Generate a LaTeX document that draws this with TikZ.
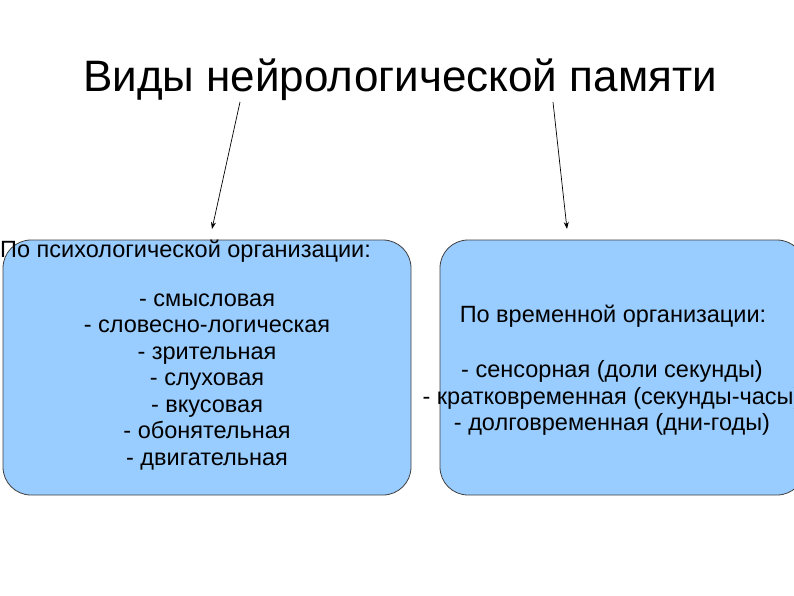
\documentclass[tikz,border=0pt]{standalone}
\usepackage{fontspec}
\setmainfont{Liberation Sans}
\usetikzlibrary{arrows.meta}
\begin{document}
\begin{tikzpicture}[x=1pt,y=-1pt,
  box/.style={draw=black!75,line width=0.8pt,fill={rgb,255:red,153;green,204;blue,255},rounded corners=28pt},
  txt/.style={font=\fontsize{23.5}{26.5}\selectfont,align=center,inner sep=0},
  arr/.style={-{Stealth[length=7pt,width=5pt]},line width=0.7pt}]
\useasboundingbox (0,0) rectangle (794,595);
\clip (0,0) rectangle (794,595);
\fill[white] (0,0) rectangle (794,595);
\node[inner sep=0,font=\fontsize{44}{50}\selectfont] (title) at (400,80) {Виды нейрологической памяти};
\draw[box] (3,240) rectangle (411,495);
\draw[box] (440,240) rectangle (805,495);
\coordinate (a1s) at (240,102); \coordinate (a1e) at (212,229);
\coordinate (a2s) at (553,102); \coordinate (a2e) at (567,229);
\draw[arr] (a1s) -- (a1e);
\draw[arr] (a2s) -- (a2e);
\node[txt,anchor=west] (lh) at (0,251) {По психологической организации:};
\node[txt] (lt) at (207,382) {- смысловая\\- словесно-логическая\\- зрительная\\- слуховая\\- вкусовая\\- обонятельная\\- двигательная};
\node[txt] (rh) at (613,316) {По временной организации:};
\node[txt] (rt) at (612,398) {- сенсорная (доли секунды)\\- кратковременная (секунды-часы)\\- долговременная (дни-годы)};
\end{tikzpicture}
\end{document}
